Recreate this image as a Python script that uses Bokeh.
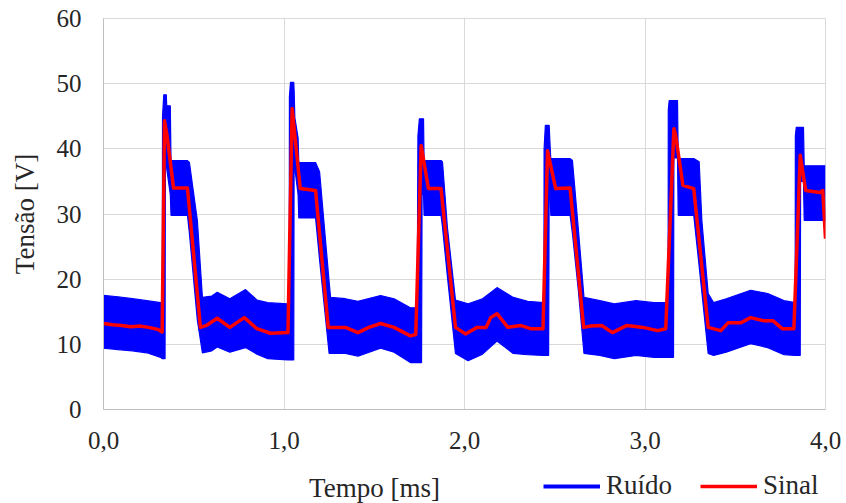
from bokeh.plotting import figure
from bokeh.layouts import column
from bokeh.models import Range1d, FixedTicker, Legend, LegendItem, Label, ColumnDataSource
from bokeh.embed import file_html
from bokeh.resources import INLINE

# ---- data ----
sinal_t = [0.000, 0.050, 0.100, 0.150, 0.200, 0.250, 0.300, 0.325, 0.338, 0.352,
           0.388, 0.465, 0.537, 0.570, 0.630, 0.700, 0.780, 0.850, 0.925, 1.022,
           1.045, 1.090, 1.175, 1.245, 1.340, 1.410, 1.470, 1.535, 1.610, 1.700,
           1.730, 1.760, 1.800, 1.870, 1.950, 2.005, 2.070, 2.120, 2.145, 2.180,
           2.240, 2.310, 2.365, 2.435, 2.460, 2.505, 2.585, 2.660, 2.700, 2.760,
           2.820, 2.900, 2.990, 3.070, 3.115, 3.160, 3.170, 3.210, 3.270, 3.350,
           3.420, 3.460, 3.530, 3.585, 3.660, 3.710, 3.760, 3.825, 3.860, 3.890,
           3.970, 3.985, 4.000]
sinal_v = [13.2, 13.0, 12.9, 12.7, 12.8, 12.6, 12.3, 11.9, 44.3, 42.0,
           34.0, 34.0, 12.6, 12.9, 14.0, 12.6, 14.1, 12.4, 11.7, 11.8,
           46.2, 33.9, 33.6, 12.6, 12.6, 11.8, 12.6, 13.2, 12.6, 11.3,
           11.5, 40.5, 33.9, 33.9, 12.6, 11.6, 12.6, 12.6, 14.1, 14.7,
           12.6, 12.9, 12.4, 12.4, 39.7, 33.9, 34.0, 12.6, 12.8, 12.9,
           11.8, 12.9, 12.6, 12.1, 12.4, 43.1, 42.0, 34.4, 33.9, 12.6,
           12.1, 13.3, 13.3, 14.1, 13.6, 13.6, 12.4, 12.4, 39.0, 33.6,
           33.3, 33.6, 26.2]

# envelope of the noisy trace (Ruído): time, lower edge, upper edge
ruido_t = [0.000, 0.080, 0.160, 0.240, 0.316, 0.326, 0.327, 0.334, 0.341, 0.343,
           0.348, 0.350, 0.370, 0.374, 0.465, 0.476, 0.520, 0.548, 0.600, 0.630,
           0.700, 0.787, 0.850, 0.910, 1.020, 1.029, 1.030, 1.036, 1.054, 1.056,
           1.060, 1.078, 1.082, 1.175, 1.197, 1.250, 1.258, 1.340, 1.410, 1.535,
           1.610, 1.700, 1.738, 1.742, 1.750, 1.762, 1.765, 1.773, 1.776, 1.870,
           1.878, 1.905, 1.950, 2.020, 2.100, 2.180, 2.270, 2.350, 2.440, 2.441,
           2.448, 2.466, 2.469, 2.475, 2.478, 2.585, 2.598, 2.630, 2.662, 2.750,
           2.830, 2.950, 3.050, 3.128, 3.129, 3.134, 3.158, 3.160, 3.180, 3.184,
           3.270, 3.300, 3.315, 3.350, 3.380, 3.450, 3.585, 3.680, 3.770, 3.832,
           3.833, 3.838, 3.860, 3.862, 3.878, 3.882, 4.000]
ruido_min = [9.4, 9.2, 9.0, 8.7, 8.0, 7.8, 7.8, 7.8, 7.8, 40.0,
             40.0, 37.0, 33.0, 29.8, 29.8, 27.0, 13.7, 8.7, 9.0, 9.6,
             8.8, 9.5, 8.5, 7.8, 7.6, 7.6, 7.6, 7.6, 7.6, 40.0,
             37.0, 33.0, 29.4, 29.4, 23.0, 8.6, 8.6, 8.6, 8.2, 9.4,
             8.8, 7.2, 7.2, 7.2, 7.2, 7.2, 33.0, 33.0, 29.8, 29.8,
             28.0, 20.5, 8.6, 7.5, 8.5, 10.5, 8.6, 8.4, 8.3, 8.3,
             8.3, 8.3, 33.0, 33.0, 29.8, 29.8, 27.0, 18.5, 8.6, 8.3,
             7.8, 8.3, 8.0, 8.0, 8.0, 8.0, 8.0, 38.6, 38.6, 29.8,
             29.8, 22.0, 18.0, 8.6, 8.3, 8.8, 10.1, 9.5, 8.4, 8.3,
             8.3, 8.3, 8.3, 35.0, 35.0, 29.0, 29.0]
ruido_max = [17.5, 17.3, 17.0, 16.7, 16.4, 16.0, 45.0, 48.3, 48.3, 48.3,
             48.3, 46.6, 46.6, 38.2, 38.2, 37.9, 29.0, 17.2, 17.4, 18.0,
             17.0, 18.4, 16.8, 16.4, 16.2, 16.2, 48.0, 50.2, 50.2, 49.0,
             44.8, 41.7, 37.9, 37.9, 36.5, 19.6, 17.2, 17.0, 16.6, 17.5,
             17.0, 15.6, 15.6, 42.0, 44.6, 44.6, 44.6, 44.6, 38.2, 38.2,
             38.0, 28.0, 16.8, 16.2, 17.0, 18.7, 17.2, 16.6, 16.4, 40.0,
             43.6, 43.6, 43.6, 40.0, 38.5, 38.5, 38.2, 27.9, 17.2, 16.7,
             16.2, 16.7, 16.4, 16.4, 46.0, 47.4, 47.4, 47.4, 47.4, 38.5,
             38.5, 38.0, 29.0, 17.8, 16.4, 17.0, 18.3, 17.8, 16.7, 16.4,
             42.0, 43.3, 43.3, 43.3, 43.3, 37.4, 37.4]

x_ticks = [0, 1, 2, 3, 4]
x_tick_labels = ["0,0", "1,0", "2,0", "3,0", "4,0"]
y_ticks = [0, 10, 20, 30, 40, 50, 60]
x_title = "Tempo [ms]"
y_title = "Tensão [V]"
series_names = ["Ruído", "Sinal"]

FONT = "Liberation Serif"
TXT = "#262626"
BLUE = "#0000FF"
RED = "#FF0000"

src_r = ColumnDataSource(dict(t=ruido_t, lo=ruido_min, hi=ruido_max))
src_s = ColumnDataSource(dict(t=sinal_t, v=sinal_v))

# ---------------- main chart ----------------
p = figure(width=846, height=465, output_backend="svg", toolbar_location=None,
           x_range=Range1d(0, 4), y_range=Range1d(0, 60),
           min_border_left=103, min_border_right=21, min_border_top=18,
           min_border_bottom=56)
p.outline_line_color = "#D9D9D9"
p.background_fill_color = "white"
p.border_fill_color = "white"

p.xaxis.ticker = FixedTicker(ticks=x_ticks)
p.yaxis.ticker = FixedTicker(ticks=y_ticks)
p.xgrid.ticker = FixedTicker(ticks=x_ticks)
p.ygrid.ticker = FixedTicker(ticks=y_ticks)
for g in (p.xgrid, p.ygrid):
    g.grid_line_color = "#D9D9D9"
    g.grid_line_width = 1

p.xaxis.major_label_overrides = {t: lab for t, lab in zip(x_ticks, x_tick_labels)}

for ax in (p.xaxis, p.yaxis):
    ax.axis_line_color = "#BFBFBF"
    ax.axis_line_width = 1
    ax.major_tick_line_color = None
    ax.minor_tick_line_color = None
    ax.major_tick_out = 0
    ax.major_tick_in = 0
    ax.major_label_text_font = FONT
    ax.major_label_text_font_size = "25px"
    ax.major_label_text_color = TXT

p.xaxis.major_label_standoff = 22
p.yaxis.major_label_standoff = 22
p.yaxis.axis_label = y_title
p.yaxis.axis_label_text_font = FONT
p.yaxis.axis_label_text_font_size = "27px"
p.yaxis.axis_label_text_font_style = "normal"
p.yaxis.axis_label_text_color = TXT
p.yaxis.axis_label_standoff = 14

p.varea(x="t", y1="lo", y2="hi", source=src_r, fill_color=BLUE, fill_alpha=1.0)
p.line(x="t", y="hi", source=src_r, line_color=BLUE, line_width=1.2)
p.line(x="t", y="lo", source=src_r, line_color=BLUE, line_width=1.2)
p.line(x="t", y="v", source=src_s, line_color=RED, line_width=3.5,
       line_join="round")

# ---------------- bottom strip: x title + legend ----------------
# (its frame is aligned with the chart frame: x from 103 to 825 px)
q = figure(width=846, height=38, output_backend="svg", toolbar_location=None,
           x_range=Range1d(10, 11), y_range=Range1d(0, 1),
           min_border=0, x_axis_location=None, y_axis_location=None)
q.outline_line_color = None
q.grid.visible = False
q.background_fill_color = "white"
q.border_fill_color = "white"

# legend renderers share the chart data but lie outside this strip's range
r_blue = q.line(x="t", y="hi", source=src_r, line_color=BLUE, line_width=4)
r_red = q.line(x="t", y="v", source=src_s, line_color=RED, line_width=3.5)

legend = Legend(items=[LegendItem(label=series_names[0], renderers=[r_blue]),
                       LegendItem(label=series_names[1], renderers=[r_red])],
                orientation="horizontal", location=(440, 2),
                glyph_width=57, glyph_height=30, label_height=30,
                label_standoff=6, spacing=28, padding=0, margin=0,
                border_line_alpha=0, background_fill_alpha=0,
                label_text_font=FONT, label_text_font_size="27px",
                label_text_color=TXT)
q.add_layout(legend)

q.add_layout(Label(x=271, y=16, x_units="screen", y_units="screen",
                   text=x_title, text_align="center", text_baseline="middle",
                   text_font=FONT, text_font_size="27px", text_color=TXT))

open("out.html", "w").write(file_html(column(p, q, spacing=0), INLINE))
